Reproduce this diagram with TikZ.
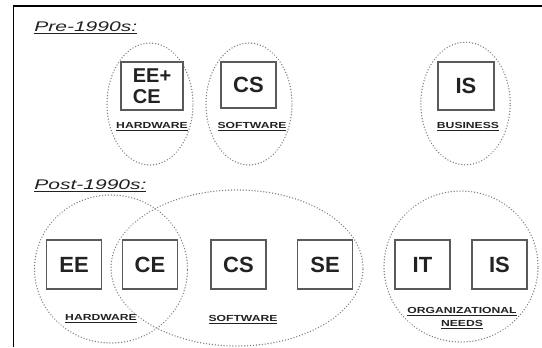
\documentclass[tikz,border=0pt]{standalone}
\usepackage{fontspec}
\setmainfont{Liberation Sans}
\usetikzlibrary{shapes.geometric}
\definecolor{inkgray}{HTML}{222222}
\definecolor{boxgray}{HTML}{5A5A5A}
\definecolor{dotgray}{HTML}{7E7E7E}

\begin{document}
\begin{tikzpicture}[x=0.75pt, y=-0.75pt,
    discbox/.style={draw=boxgray, line width=1.1pt, fill=white, inner sep=0pt,
      text=inkgray, font=\fontsize{16.5}{18}\selectfont\bfseries},
    field/.style={ellipse, draw=dotgray, line width=1.1pt, inner sep=0pt,
      dash pattern=on 0.01pt off 2.2pt, line cap=round},
    fieldlabel/.style={text=inkgray, inner sep=0pt, xscale=1.38,
      font=\fontsize{6.6}{7.5}\selectfont\bfseries},
    era/.style={anchor=base west, text=inkgray, inner sep=0pt, xscale=1.5,
      font=\fontsize{10.5}{12}\selectfont\itshape}]
  \useasboundingbox (0,0) rectangle (542,347);
  \fill[white] (0,0) rectangle (542,347);

  % --- frame (left and top edges only) ---
  \coordinate (frametop) at (542,6);
  \coordinate (framecorner) at (13.5,6);
  \coordinate (framebottom) at (13.5,347);
  \draw[black, line width=1.4pt] (frametop) -- (framecorner) -- (framebottom);

  % --- Pre-1990s ---
  \node[era] (pre) at (34,31) {\underline{Pre-1990s:}};

  \node[field, minimum width=64.5pt, minimum height=91.5pt] (prehw) at (150,104) {};
  \node[field, minimum width=64.5pt, minimum height=91.5pt] (presw) at (249,104) {};
  \node[field, minimum width=67pt,   minimum height=92pt]   (prebus) at (465.5,103.5) {};

  \node[discbox, minimum width=46.5pt, minimum height=36pt, align=left,
    font=\fontsize{15}{16}\selectfont\bfseries] (eece) at (152,86) {EE+\\CE};
  \node[discbox, minimum width=41.25pt, minimum height=34.5pt] (precs) at (248.5,85) {CS};
  \node[discbox, minimum width=42pt,    minimum height=36pt]   (preis) at (466,86) {IS};

  \node[fieldlabel] (prehwlabel)  at (152,127) {\underline{HARDWARE}};
  \node[fieldlabel] (preswlabel)  at (252,127) {\underline{SOFTWARE}};
  \node[fieldlabel] (prebuslabel) at (468,127) {\underline{BUSINESS}};

  % --- Post-1990s ---
  \node[era] (post) at (34,189) {\underline{Post-1990s:}};

  \node[field, minimum width=114.75pt, minimum height=111pt]   (posthw) at (111,269) {};
  \node[field, minimum width=189pt,    minimum height=117pt]   (postsw) at (237,268) {};
  \node[field, minimum width=115.5pt,  minimum height=113.25pt] (postorg) at (461,266.5) {};

  \node[discbox, minimum width=41.25pt, minimum height=36.75pt] (ee) at (74,264.5)    {EE};
  \node[discbox, minimum width=41.25pt, minimum height=36.75pt] (ce) at (150,264.5)   {CE};
  \node[discbox, minimum width=41.25pt, minimum height=36.75pt] (cs) at (238.5,264.5) {CS};
  \node[discbox, minimum width=41.25pt, minimum height=36.75pt] (se) at (325,264.5)   {SE};
  \node[discbox, minimum width=41.25pt, minimum height=36.75pt] (it) at (422.5,264.5) {IT};
  \node[discbox, minimum width=41.25pt, minimum height=36.75pt] (is) at (499.5,264.5) {IS};

  \node[fieldlabel] (posthwlabel)  at (101,319) {\underline{HARDWARE}};
  \node[fieldlabel] (postswlabel)  at (243,320) {\underline{SOFTWARE}};
  \node[fieldlabel] (postorglabel) at (462,312) {\underline{ORGANIZATIONAL}};
  \node[fieldlabel] (postneedslabel) at (462,325) {\underline{NEEDS}};
\end{tikzpicture}
\end{document}
